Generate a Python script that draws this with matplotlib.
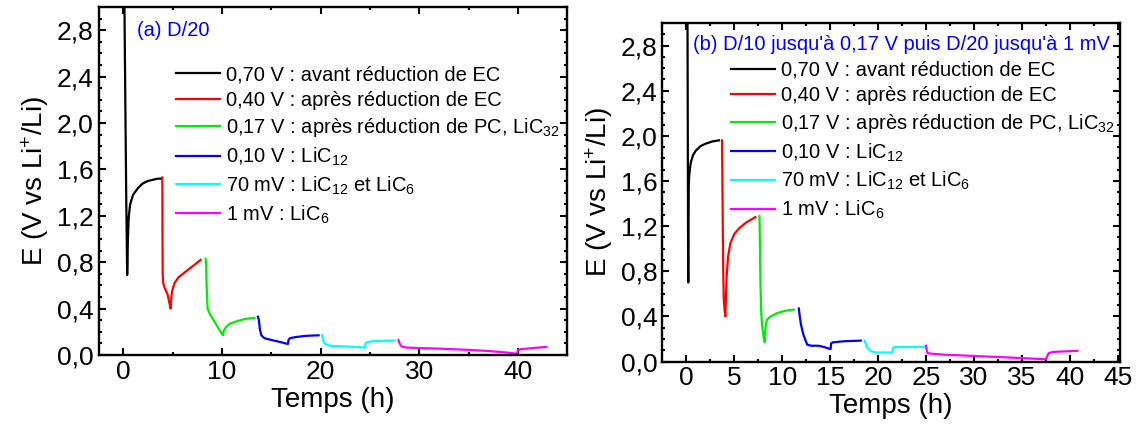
import matplotlib
matplotlib.use('Agg')
import matplotlib.pyplot as plt
from matplotlib.ticker import MultipleLocator, FuncFormatter

plt.rcParams['font.family'] = ['Liberation Sans', 'DejaVu Sans']
plt.rcParams['mathtext.fontset'] = 'custom'
plt.rcParams['mathtext.rm'] = 'Liberation Sans'
plt.rcParams['mathtext.it'] = 'Liberation Sans:italic'

# ---- data ----
labels = ["0,70 V : avant réduction de EC",
          "0,40 V : après réduction de EC",
          "0,17 V : après réduction de PC, LiC$_{32}$",
          "0,10 V : LiC$_{12}$",
          "70 mV : LiC$_{12}$ et LiC$_{6}$",
          "1 mV : LiC$_{6}$"]
colors = ['black', 'red', '#00ee00', 'blue', 'cyan', 'magenta']

# (a) D/20
t_a_070 = [0.12, 0.2, 0.3, 0.4, 0.43, 0.47, 0.55, 0.7, 1.0, 1.5, 2.0, 2.5, 3.0, 3.5, 3.85]
E_a_070 = [3.05, 2.3, 1.4, 0.69, 0.8, 0.98, 1.18, 1.30, 1.38, 1.44, 1.48, 1.50, 1.51, 1.52, 1.52]
t_a_040 = [3.95, 3.97, 3.98, 4.0, 4.05, 4.2, 4.5, 4.8, 4.85, 4.95, 5.2, 5.6, 6.2, 6.8, 7.4, 7.85]
E_a_040 = [1.53, 1.45, 1.0, 0.7, 0.62, 0.58, 0.52, 0.40, 0.47, 0.55, 0.62, 0.67, 0.71, 0.75, 0.79, 0.82]
t_a_017 = [8.35, 8.4, 8.45, 8.55, 8.8, 9.3, 9.8, 10.1, 10.2, 10.4, 10.8, 11.5, 12.3, 13.3]
E_a_017 = [0.83, 0.78, 0.6, 0.40, 0.35, 0.28, 0.21, 0.17, 0.21, 0.24, 0.27, 0.29, 0.31, 0.32]
t_a_010 = [13.65, 13.75, 13.85, 14.0, 14.3, 15.0, 16.0, 16.7, 16.75, 16.9, 17.5, 18.5, 19.8]
E_a_010 = [0.33, 0.30, 0.22, 0.17, 0.145, 0.13, 0.11, 0.095, 0.13, 0.145, 0.155, 0.165, 0.17]
t_a_70m = [20.15, 20.25, 20.4, 20.9, 22.0, 23.5, 24.5, 24.55, 24.7, 25.3, 26.5, 27.5]
E_a_70m = [0.17, 0.13, 0.10, 0.08, 0.075, 0.07, 0.065, 0.10, 0.11, 0.12, 0.122, 0.125]
t_a_1m = [27.9, 28.0, 28.2, 28.6, 30.0, 32.0, 34.8, 37.0, 39.0, 39.9, 40.0, 40.3, 41.5, 42.9]
E_a_1m = [0.13, 0.10, 0.075, 0.065, 0.06, 0.055, 0.045, 0.035, 0.02, 0.01, 0.04, 0.05, 0.06, 0.07]

# (b) D/10 then D/20
t_b_070 = [0.12, 0.15, 0.18, 0.2, 0.22, 0.25, 0.3, 0.45, 0.7, 1.0, 1.5, 2.0, 2.7, 3.4]
E_b_070 = [3.05, 2.0, 1.0, 0.70, 1.3, 1.55, 1.65, 1.76, 1.83, 1.87, 1.91, 1.93, 1.95, 1.96]
t_b_040 = [3.72, 3.75, 3.8, 3.85, 3.9, 4.0, 4.07, 4.12, 4.2, 4.35, 4.6, 5.0, 5.5, 6.2, 7.2]
E_b_040 = [1.96, 1.7, 1.2, 0.8, 0.55, 0.45, 0.40, 0.55, 0.75, 0.93, 1.05, 1.13, 1.18, 1.23, 1.28]
t_b_017 = [7.63, 7.68, 7.73, 7.8, 7.9, 8.05, 8.18, 8.25, 8.4, 8.8, 9.5, 10.3, 11.2]
E_b_017 = [1.29, 1.0, 0.7, 0.45, 0.32, 0.22, 0.17, 0.30, 0.37, 0.40, 0.43, 0.45, 0.46]
t_b_010 = [11.73, 11.8, 11.95, 12.2, 12.6, 13.0, 13.8, 14.5, 15.05, 15.1, 15.3, 16.5, 18.2]
E_b_010 = [0.47, 0.42, 0.33, 0.24, 0.15, 0.14, 0.14, 0.125, 0.11, 0.16, 0.17, 0.18, 0.185]
t_b_70m = [18.6, 18.7, 18.9, 19.3, 19.8, 20.5, 21.5, 21.55, 21.7, 23.0, 24.8]
E_b_70m = [0.185, 0.16, 0.12, 0.09, 0.08, 0.08, 0.08, 0.12, 0.127, 0.13, 0.13]
t_b_1m = [25.0, 25.05, 25.15, 25.5, 27.0, 29.8, 32.5, 35.1, 37.5, 37.6, 37.8, 38.3, 39.5, 40.8]
E_b_1m = [0.14, 0.11, 0.075, 0.07, 0.06, 0.05, 0.04, 0.03, 0.02, 0.04, 0.075, 0.085, 0.09, 0.095]

segs_a = [(t_a_070, E_a_070), (t_a_040, E_a_040), (t_a_017, E_a_017),
          (t_a_010, E_a_010), (t_a_70m, E_a_70m), (t_a_1m, E_a_1m)]
segs_b = [(t_b_070, E_b_070), (t_b_040, E_b_040), (t_b_017, E_b_017),
          (t_b_010, E_b_010), (t_b_70m, E_b_70m), (t_b_1m, E_b_1m)]

comma = FuncFormatter(lambda v, p: ('%.1f' % v).replace('.', ','))

fig = plt.figure(figsize=(11.46, 4.34), dpi=100)

panels = [
    dict(rect=[0.086, 0.182, 0.409, 0.802], segs=segs_a, xlim=(-2.5, 45), xmaj=10, xmin=5,
         title="(a) D/20", tpos=(0.082, 0.931), leg=(0.165, 0.832)),
    dict(rect=[0.578, 0.167, 0.399, 0.780], segs=segs_b, xlim=(-2.5, 45.2), xmaj=5, xmin=2.5,
         title="(b) D/10 jusqu'à 0,17 V puis D/20 jusqu'à 1 mV", tpos=(0.066, 0.936), leg=(0.150, 0.888)),
]

for p in panels:
    ax = fig.add_axes(p['rect'])
    for (t, E), c, lab in zip(p['segs'], colors, labels):
        ax.plot(t, E, color=c, lw=1.6, label=lab)
    ax.set_xlim(*p['xlim'])
    ax.set_ylim(0, 3.0)
    ax.xaxis.set_major_locator(MultipleLocator(p['xmaj']))
    ax.xaxis.set_minor_locator(MultipleLocator(p['xmin']))
    ax.yaxis.set_major_locator(MultipleLocator(0.4))
    ax.yaxis.set_minor_locator(MultipleLocator(0.1))
    ax.yaxis.set_major_formatter(comma)
    ax.tick_params(which='both', direction='in', top=True, right=True, width=1.5, labelsize=19)
    ax.tick_params(which='major', length=5)
    ax.tick_params(which='minor', length=2.5)
    for s in ax.spines.values():
        s.set_linewidth(1.7)
    ax.set_xlabel("Temps (h)", fontsize=20, labelpad=2)
    ax.set_ylabel("E (V vs Li$^{+}$/Li)", fontsize=20, labelpad=4)
    ax.text(p['tpos'][0], p['tpos'][1], p['title'], transform=ax.transAxes,
            color='blue', fontsize=14.5, va='center', ha='left')
    ax.legend(loc='upper left', bbox_to_anchor=p['leg'], frameon=False, fontsize=14.5,
              handlelength=2.2, handletextpad=0.3, labelspacing=0.32,
              borderpad=0, borderaxespad=0)

plt.savefig('out.png', dpi=100)
